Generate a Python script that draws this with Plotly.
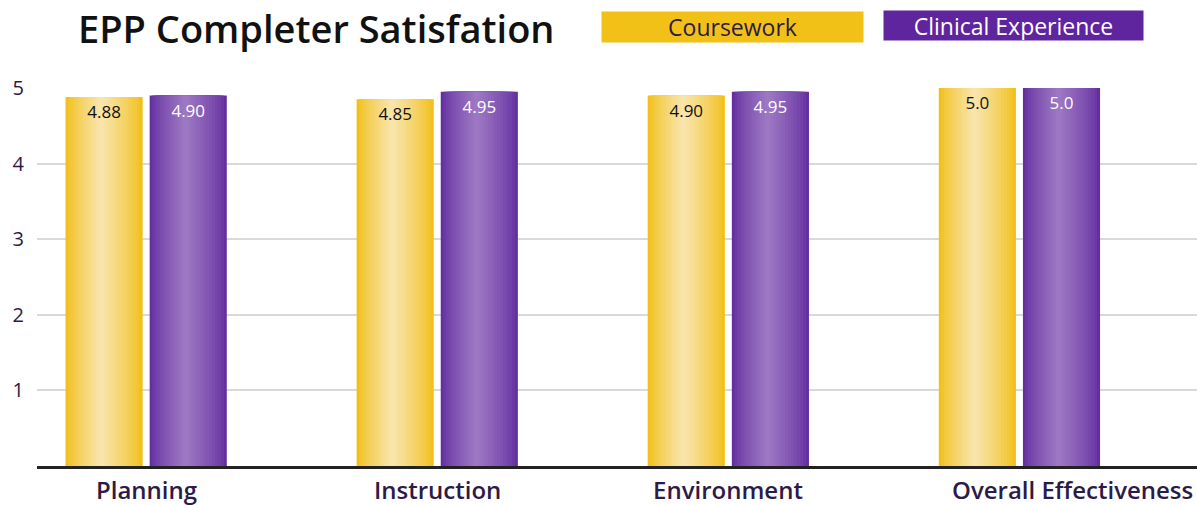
import plotly.graph_objects as go

categories = ["Planning", "Instruction", "Environment", "Overall Effectiveness"]
coursework = [4.88, 4.85, 4.90, 5.0]
clinical = [4.90, 4.95, 4.95, 5.0]
coursework_labels = ["4.88", "4.85", "4.90", "5.0"]
clinical_labels = ["4.90", "4.95", "4.95", "5.0"]
series_names = ["Coursework", "Clinical Experience"]
y_ticks = [1, 2, 3, 4, 5]

TEXT = "#2d1b47"
FONT = "Open Sans"

FIG_W, FIG_H = 1197, 505
PL, PT, PB = 37, 88, 466  # plot left/top/bottom in window pixels
PW, PH = FIG_W - PL, PB - PT


def hex_to_rgb(h):
    h = h.lstrip("#")
    return tuple(int(h[i:i + 2], 16) for i in (0, 2, 4))


def mix(c1, c2, t):
    a, b = hex_to_rgb(c1), hex_to_rgb(c2)
    return "rgb(%d,%d,%d)" % tuple(round(a[i] + (b[i] - a[i]) * t) for i in range(3))


fig = go.Figure()

BAR_W = 0.265
GAP = 0.012
N = 14
series = [
    (coursework, coursework_labels, -GAP - BAR_W / 2, "#f1c01a", "#f9e4aa", "#111111"),
    (clinical, clinical_labels, GAP + BAR_W / 2, "#6430a0", "#9d77c3", "#ffffff"),
]
for vals, labels, center, edge, mid, tcol in series:
    for k in range(N):
        frac = 1 - k / N
        w = BAR_W * frac
        t = (k / (N - 1)) ** 0.8
        fig.add_trace(go.Bar(
            x=categories, y=vals, width=w, offset=center - w / 2 - 0.01 * (k / N),
            marker=dict(color=mix(edge, mid, t), line=dict(width=0)),
            showlegend=False, hoverinfo="skip"))
    fig.add_trace(go.Bar(
        x=categories, y=vals, width=BAR_W, offset=center - BAR_W / 2,
        marker=dict(color="rgba(0,0,0,0)", line=dict(width=0)),
        text=labels, textposition="inside", insidetextanchor="end",
        textangle=0, constraintext="none",
        textfont=dict(family=FONT, size=17, color=tcol, weight=400),
        showlegend=False, hoverinfo="skip"))

fig.update_layout(
    width=FIG_W, height=FIG_H,
    barmode="overlay",
    plot_bgcolor="white", paper_bgcolor="white",
    margin=dict(l=PL, r=0, t=PT, b=FIG_H - PB, autoexpand=False),
    font=dict(family=FONT, color=TEXT),
    title=dict(text="EPP Completer Satisfation", x=78 / FIG_W, xanchor="left",
               xref="container", yref="container", y=1 - 30 / FIG_H, yanchor="middle",
               font=dict(family=FONT, size=38, color="#111111", weight=600)),
    xaxis=dict(range=[-0.375, 3.61], showgrid=False, showline=True,
               linecolor="#222222", linewidth=3, ticks="", showticklabels=False,
               fixedrange=True, automargin=False),
    yaxis=dict(range=[0, 5.0], tickvals=y_ticks, showgrid=True,
               gridcolor="#dcd8d8", gridwidth=2, zeroline=False, showline=False,
               ticks="", tickfont=dict(family=FONT, size=20, color=TEXT),
               ticklabelstandoff=12, fixedrange=True, automargin=False),
)

# category labels (last one kept near the right edge, as in the reference)
last = len(categories) - 1
for i, cat in enumerate(categories):
    if i == last:
        kw = dict(xref="paper", x=1.0, xanchor="right", xshift=-2)
    else:
        kw = dict(xref="x", x=cat, xanchor="center")
    fig.add_annotation(text=cat, yref="paper", y=0, yanchor="middle", yshift=-23,
                       showarrow=False,
                       font=dict(family=FONT, size=24, color=TEXT, weight=600), **kw)

legend_specs = [
    (series_names[0], 732.5, 27, 261, 30, "#f2c118", TEXT),
    (series_names[1], 1013.5, 25.5, 259, 29, "#5f259f", "#ffffff"),
]
for name, cx, cy, w, h, bg, fc in legend_specs:
    fig.add_annotation(
        text=name, xref="paper", yref="paper",
        x=(cx - PL) / PW, y=(PB - cy) / PH, xanchor="center", yanchor="middle",
        showarrow=False, width=w, height=h, bgcolor=bg, borderpad=0,
        font=dict(family=FONT, size=23, color=fc))

fig.write_html("out.html",
               config={"displayModeBar": False},
               post_script="document.body.style.margin='0';"
                           "document.body.style.overflow='hidden';")
